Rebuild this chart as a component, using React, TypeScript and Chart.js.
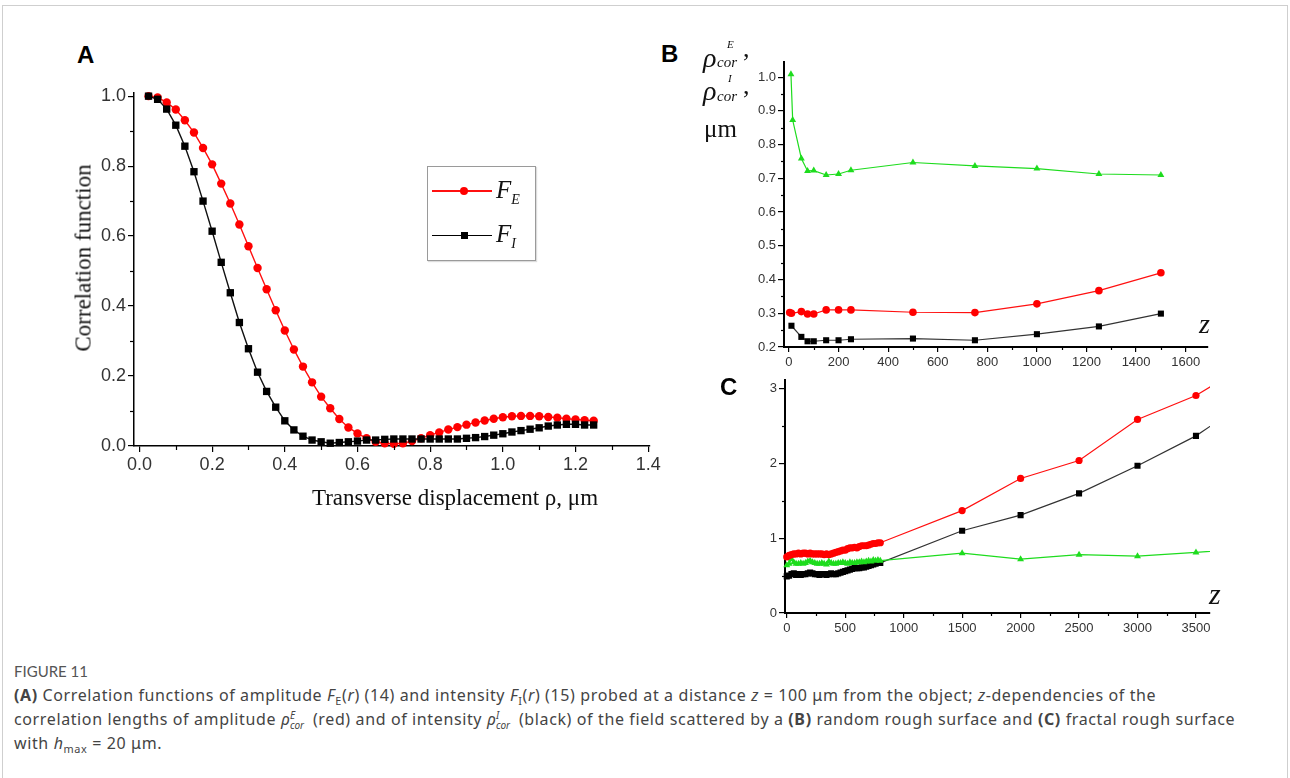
import React, { useEffect, useRef } from "react";
import { Chart, registerables } from "chart.js";
Chart.register(...registerables);

// ---------------- Panel A data ----------------
const A_RHO = [0.025, 0.05, 0.075, 0.1, 0.125, 0.15, 0.175, 0.2, 0.225, 0.25, 0.275, 0.3, 0.325, 0.35, 0.375, 0.4, 0.425, 0.45, 0.475, 0.5, 0.525, 0.55, 0.575, 0.6, 0.625, 0.65, 0.675, 0.7, 0.725, 0.75, 0.775, 0.8, 0.825, 0.85, 0.875, 0.9, 0.925, 0.95, 0.975, 1.0, 1.025, 1.05, 1.075, 1.1, 1.125, 1.15, 1.175, 1.2, 1.225, 1.25];
const A_FE = [1.0, 0.996, 0.982, 0.962, 0.931, 0.896, 0.852, 0.805, 0.75, 0.693, 0.633, 0.571, 0.509, 0.448, 0.388, 0.33, 0.276, 0.227, 0.182, 0.141, 0.108, 0.077, 0.053, 0.036, 0.022, 0.012, 0.008, 0.006, 0.008, 0.014, 0.022, 0.031, 0.039, 0.047, 0.054, 0.061, 0.067, 0.073, 0.078, 0.082, 0.085, 0.086, 0.086, 0.085, 0.083, 0.081, 0.078, 0.076, 0.074, 0.072];
const A_FI = [1.0, 0.991, 0.963, 0.917, 0.857, 0.784, 0.7, 0.614, 0.525, 0.438, 0.353, 0.278, 0.211, 0.156, 0.111, 0.072, 0.046, 0.028, 0.017, 0.012, 0.008, 0.01, 0.012, 0.014, 0.017, 0.017, 0.019, 0.02, 0.02, 0.02, 0.02, 0.02, 0.02, 0.02, 0.02, 0.022, 0.024, 0.027, 0.031, 0.035, 0.04, 0.044, 0.048, 0.052, 0.057, 0.06, 0.062, 0.062, 0.06, 0.06];
const A_X_TICKS = [0, 0.2, 0.4, 0.6, 0.8, 1.0, 1.2, 1.4];
const A_X_MINOR = [0.1, 0.3, 0.5, 0.7, 0.9, 1.1, 1.3];
const A_Y_TICKS = [0, 0.2, 0.4, 0.6, 0.8, 1.0];
const A_Y_MINOR = [0.1, 0.3, 0.5, 0.7, 0.9];

// ---------------- Panel B data ----------------
const B_Z_E = [3, 10, 50, 75, 100, 150, 200, 250, 500, 750, 1000, 1250, 1500];
const B_E = [0.302, 0.3, 0.305, 0.298, 0.298, 0.31, 0.31, 0.31, 0.303, 0.302, 0.328, 0.367, 0.42];
const B_Z_I = [10, 50, 75, 100, 150, 200, 250, 500, 750, 1000, 1250, 1500];
const B_I = [0.263, 0.23, 0.217, 0.217, 0.22, 0.22, 0.223, 0.225, 0.22, 0.238, 0.261, 0.299];
const B_Z_G = [8, 15, 50, 75, 100, 150, 200, 250, 500, 750, 1000, 1250, 1500];
const B_G = [1.009, 0.873, 0.759, 0.722, 0.723, 0.71, 0.713, 0.724, 0.747, 0.737, 0.729, 0.713, 0.71];
const B_X_TICKS = [0, 200, 400, 600, 800, 1000, 1200, 1400, 1600];
const B_X_MINOR = [100, 300, 500, 700, 900, 1100, 1300, 1500];
const B_Y_TICKS = [0.2, 0.3, 0.4, 0.5, 0.6, 0.7, 0.8, 0.9, 1.0];
const B_Y_MINOR = [0.25, 0.35, 0.45, 0.55, 0.65, 0.75, 0.85, 0.95];

// ---------------- Panel C data ----------------
const C_Z = [0, 20, 40, 60, 80, 100, 120, 140, 160, 180, 200, 220, 240, 260, 280, 300, 320, 340, 360, 380, 400, 420, 440, 460, 480, 500, 520, 540, 560, 580, 600, 620, 640, 660, 680, 700, 720, 740, 760, 780, 800, 1500, 2000, 2500, 3000, 3500, 4000];
const C_E = [0.75, 0.77, 0.78, 0.79, 0.79, 0.8, 0.79, 0.8, 0.8, 0.79, 0.8, 0.79, 0.79, 0.79, 0.79, 0.79, 0.78, 0.79, 0.78, 0.79, 0.8, 0.81, 0.82, 0.83, 0.84, 0.84, 0.86, 0.87, 0.87, 0.88, 0.87, 0.89, 0.9, 0.9, 0.9, 0.91, 0.92, 0.93, 0.93, 0.94, 0.94, 1.37, 1.8, 2.04, 2.59, 2.91, 3.38];
const C_I = [0.49, 0.5, 0.52, 0.53, 0.51, 0.52, 0.51, 0.52, 0.52, 0.53, 0.54, 0.53, 0.52, 0.52, 0.51, 0.52, 0.52, 0.51, 0.52, 0.53, 0.52, 0.52, 0.53, 0.54, 0.55, 0.56, 0.57, 0.58, 0.59, 0.6, 0.6, 0.6, 0.61, 0.61, 0.62, 0.63, 0.64, 0.65, 0.66, 0.67, 0.67, 1.1, 1.31, 1.6, 1.97, 2.37, 2.9];
const C_G = [0.64, 0.66, 0.72, 0.68, 0.66, 0.66, 0.67, 0.66, 0.67, 0.69, 0.7, 0.68, 0.67, 0.66, 0.66, 0.67, 0.66, 0.65, 0.69, 0.67, 0.66, 0.66, 0.67, 0.67, 0.68, 0.67, 0.66, 0.68, 0.67, 0.67, 0.68, 0.68, 0.69, 0.68, 0.69, 0.7, 0.69, 0.71, 0.7, 0.71, 0.7, 0.8, 0.72, 0.78, 0.76, 0.81, 0.87];
const C_X_TICKS = [0, 500, 1000, 1500, 2000, 2500, 3000, 3500];
const C_X_MINOR = [250, 750, 1250, 1750, 2250, 2750, 3250];
const C_Y_TICKS = [0, 1, 2, 3];
const C_Y_MINOR = [0.5, 1.5, 2.5];

const SANS = '"Liberation Sans", Arial, sans-serif';
const SERIF = '"Liberation Serif", "Times New Roman", serif';
const RED = "#ff1010";
const GREEN = "#1edc1e";
const BLACK = "#111111";

function minorTicks(xv: number[], yv: number[], len: number, width: number) {
  return {
    id: "minorTicks",
    afterDraw(chart: any) {
      const ctx = chart.ctx;
      const xs = chart.scales.x;
      const ys = chart.scales.y;
      ctx.save();
      ctx.strokeStyle = "#000";
      ctx.lineWidth = width;
      xv.forEach((v) => {
        const p = Math.round(xs.getPixelForValue(v)) + 0.5;
        ctx.beginPath();
        ctx.moveTo(p, xs.top);
        ctx.lineTo(p, xs.top + len);
        ctx.stroke();
      });
      yv.forEach((v) => {
        const p = Math.round(ys.getPixelForValue(v)) + 0.5;
        ctx.beginPath();
        ctx.moveTo(ys.right, p);
        ctx.lineTo(ys.right - len, p);
        ctx.stroke();
      });
      ctx.restore();
    },
  };
}

function axis(o: {
  min: number; max: number; ticks: number[]; fmt: (v: number) => string;
  size: number; fontSize: number; tickLen: number; pad: number; borderW: number; isX: boolean;
}) {
  return {
    type: "linear",
    min: o.min,
    max: o.max,
    afterBuildTicks: (s: any) => {
      s.ticks = o.ticks.map((v) => ({ value: v }));
    },
    afterFit: (s: any) => {
      if (o.isX) s.height = o.size;
      else s.width = o.size;
    },
    grid: { display: true, drawOnChartArea: false, drawTicks: true, tickLength: o.tickLen, color: "#000", lineWidth: 1.2 },
    border: { display: true, color: "#000", width: o.borderW },
    ticks: {
      color: "#333",
      font: { family: SANS, size: o.fontSize },
      padding: o.pad,
      autoSkip: false,
      maxRotation: 0,
      callback: (v: any) => o.fmt(Number(v)),
    },
  };
}

function pts(xs: number[], ys: number[]) {
  return xs.map((x, i) => ({ x, y: ys[i] }));
}

const base = (padding: any) => ({
  responsive: false,
  animation: false,
  devicePixelRatio: 1,
  layout: { padding },
  plugins: { legend: { display: false }, tooltip: { enabled: false } },
  events: [],
});

const abs = (s: any): React.CSSProperties => ({ position: "absolute", whiteSpace: "nowrap", lineHeight: 1, ...s });

export default function App() {
  const refA = useRef<HTMLCanvasElement>(null);
  const refB = useRef<HTMLCanvasElement>(null);
  const refC = useRef<HTMLCanvasElement>(null);

  useEffect(() => {
    const charts: Chart[] = [];
    // Panel A
    charts.push(
      new Chart(refA.current!, {
        type: "line",
        data: {
          datasets: [
            {
              data: pts(A_RHO, A_FI), borderColor: BLACK, backgroundColor: "#000", pointBorderColor: "#000",
              borderWidth: 1.4, pointStyle: "rect", pointRadius: 5.2, pointBorderWidth: 0, clip: 8,
            },
            {
              data: pts(A_RHO, A_FE), borderColor: RED, backgroundColor: "#ff0000", pointBorderColor: "#ff0000",
              borderWidth: 1.4, pointStyle: "circle", pointRadius: 4.2, pointBorderWidth: 0, clip: 8,
            },
          ],
        },
        options: {
          ...base({ left: 0, top: 23, right: 30, bottom: 0 }),
          scales: {
            x: axis({ min: -0.015, max: 1.405, ticks: A_X_TICKS, fmt: (v) => v.toFixed(1), size: 44, fontSize: 18, tickLen: 6, pad: 2, borderW: 1.5, isX: true }),
            y: axis({ min: 0, max: 1.009, ticks: A_Y_TICKS, fmt: (v) => v.toFixed(1), size: 94, fontSize: 18, tickLen: 6, pad: 2, borderW: 1.5, isX: false }),
          },
        } as any,
        plugins: [minorTicks(A_X_MINOR, A_Y_MINOR, 4, 1.2)],
      } as any)
    );
    // Panel B
    charts.push(
      new Chart(refB.current!, {
        type: "line",
        data: {
          datasets: [
            {
              data: pts(B_Z_G, B_G), borderColor: GREEN, backgroundColor: GREEN, pointBorderColor: GREEN,
              borderWidth: 1.2, pointStyle: "triangle", pointRadius: 4, pointBorderWidth: 0, clip: 6,
            },
            {
              data: pts(B_Z_E, B_E), borderColor: RED, backgroundColor: "#ff0000", pointBorderColor: "#ff0000",
              borderWidth: 1.2, pointStyle: "circle", pointRadius: 3.8, pointBorderWidth: 0, clip: 6,
            },
            {
              data: pts(B_Z_I, B_I), borderColor: "#333", backgroundColor: "#000", pointBorderColor: "#000",
              borderWidth: 1.2, pointStyle: "rect", pointRadius: 4.3, pointBorderWidth: 0, clip: 6,
            },
          ],
        },
        options: {
          ...base({ left: 0, top: 22, right: 32, bottom: 0 }),
          scales: {
            x: axis({ min: -20, max: 1690, ticks: B_X_TICKS, fmt: (v) => String(v), size: 28, fontSize: 13, tickLen: 5, pad: 3, borderW: 2, isX: true }),
            y: axis({ min: 0.2, max: 1.045, ticks: B_Y_TICKS, fmt: (v) => v.toFixed(1), size: 84, fontSize: 13, tickLen: 6, pad: 2, borderW: 2, isX: false }),
          },
        } as any,
        plugins: [minorTicks(B_X_MINOR, B_Y_MINOR, 3, 1.2)],
      } as any)
    );
    // Panel C
    const clipC = { left: 6, top: 6, right: 0, bottom: 6 };
    charts.push(
      new Chart(refC.current!, {
        type: "line",
        data: {
          datasets: [
            {
              data: pts(C_Z, C_E), borderColor: RED, backgroundColor: "#ff0000", pointBorderColor: "#ff0000",
              borderWidth: 1.2, pointStyle: "circle", pointRadius: 3.6, pointBorderWidth: 0, clip: clipC,
            },
            {
              data: pts(C_Z, C_G), borderColor: GREEN, backgroundColor: GREEN, pointBorderColor: GREEN,
              borderWidth: 1.2, pointStyle: "triangle", pointRadius: 4, pointBorderWidth: 0, clip: clipC,
            },
            {
              data: pts(C_Z, C_I), borderColor: "#333", backgroundColor: "#000", pointBorderColor: "#000",
              borderWidth: 1.2, pointStyle: "rect", pointRadius: 4.3, pointBorderWidth: 0, clip: clipC,
            },
          ],
        },
        options: {
          ...base({ left: 0, top: 4, right: 30, bottom: 0 }),
          scales: {
            x: axis({ min: -15, max: 3620, ticks: C_X_TICKS, fmt: (v) => String(v), size: 27, fontSize: 13, tickLen: 5, pad: 3, borderW: 2, isX: true }),
            y: axis({ min: 0, max: 3.12, ticks: C_Y_TICKS, fmt: (v) => String(v), size: 85, fontSize: 13, tickLen: 6, pad: 2, borderW: 2, isX: false }),
          },
        } as any,
        plugins: [minorTicks(C_X_MINOR, C_Y_MINOR, 3, 1.2)],
      } as any)
    );
    return () => charts.forEach((c) => c.destroy());
  }, []);

  const serif = (size: number, italic = false) => ({ fontFamily: SERIF, fontSize: size, fontStyle: italic ? "italic" : "normal", color: "#111" });
  const sansBold = (size: number) => ({ fontFamily: SANS, fontSize: size, fontWeight: 700, color: "#000" });
  const cap: React.CSSProperties = { fontFamily: "'Noto Sans', 'Open Sans', sans-serif", fontSize: 16, color: "#444", letterSpacing: 0.62 };
  const sub = (t: string) => <sub style={{ fontSize: "0.68em", lineHeight: 0 }}>{t}</sub>;
  const rhoSS = (sup: string) => (
    <span style={{ position: "relative", display: "inline-block", width: 32 }}>
      <i>ρ</i>
      <i style={{ position: "absolute", left: 9, top: 3, fontSize: 10, lineHeight: 1, letterSpacing: 0 }}>{sup}</i>
      <i style={{ position: "absolute", left: 9, top: 13, fontSize: 10, lineHeight: 1, letterSpacing: 0 }}>cor</i>
    </span>
  );

  return (
    <div style={{ position: "absolute", left: 0, top: 0, width: 1290, height: 778, overflow: "hidden", background: "#fff" }}>
      <div style={{ position: "absolute", left: 2, top: 5, width: 1284, height: 800, border: "1px solid #cfcfcf" }} />
      <canvas ref={refA} width={640} height={420} style={{ position: "absolute", left: 40, top: 70, width: 640, height: 420 }} />
      <canvas ref={refB} width={540} height={335} style={{ position: "absolute", left: 700, top: 40, width: 540, height: 335 }} />
      <canvas ref={refC} width={540} height={270} style={{ position: "absolute", left: 700, top: 370, width: 540, height: 270 }} />

      {/* Panel letters */}
      <div style={abs({ left: 77, top: 43, ...sansBold(24) })}>A</div>
      <div style={abs({ left: 661, top: 42, ...sansBold(24) })}>B</div>
      <div style={abs({ left: 720, top: 375, ...sansBold(24) })}>C</div>

      {/* Panel A axis titles */}
      <div style={abs({ left: 83, top: 258, transform: "translate(-50%,-50%) rotate(-90deg)", ...serif(23) })}>Correlation function</div>
      <div style={abs({ left: 455, top: 497, transform: "translate(-50%,-50%)", ...serif(23) })}>Transverse displacement ρ, μm</div>

      {/* Panel A legend */}
      <div style={{ position: "absolute", left: 427, top: 166, width: 107, height: 93, border: "1px solid #9a9a9a", boxShadow: "1px 1px 1px #ddd" }} />
      <div style={{ position: "absolute", left: 432, top: 190, width: 60, height: 1.5, background: RED }} />
      <div style={{ position: "absolute", left: 460, top: 187, width: 8, height: 8, borderRadius: 4, background: "#ff0000" }} />
      <div style={{ position: "absolute", left: 432, top: 234.5, width: 60, height: 1.8, background: "#000" }} />
      <div style={{ position: "absolute", left: 460.5, top: 232, width: 7, height: 7, background: "#000" }} />
      <div style={abs({ left: 496, top: 177, ...serif(25, true) })}>F<sub style={{ fontSize: 14, lineHeight: 0 }}>E</sub></div>
      <div style={abs({ left: 496, top: 221, ...serif(25, true) })}>F<sub style={{ fontSize: 14, lineHeight: 0 }}>I</sub></div>

      {/* Panel B y label */}
      <div style={abs({ left: 703, top: 44, ...serif(28, true) })}>ρ</div>
      <div style={abs({ left: 727, top: 39, ...serif(11, true) })}>E</div>
      <div style={abs({ left: 717, top: 55, ...serif(15, true) })}>cor</div>
      <div style={abs({ left: 743, top: 36, ...serif(26) })}>,</div>
      <div style={abs({ left: 703, top: 77, ...serif(28, true) })}>ρ</div>
      <div style={abs({ left: 728, top: 73, ...serif(11, true) })}>I</div>
      <div style={abs({ left: 717, top: 89, ...serif(15, true) })}>cor</div>
      <div style={abs({ left: 743, top: 73, ...serif(26) })}>,</div>
      <div style={abs({ left: 704, top: 116, ...serif(25) })}>μm</div>
      <div style={abs({ left: 1199, top: 310, ...serif(28, true) })}>z</div>
      <div style={abs({ left: 1209, top: 579, ...serif(30, true) })}>z</div>

      {/* Caption */}
      <div style={abs({ left: 14, top: 664, fontFamily: "Lato, sans-serif", fontSize: 15, color: "#555" })}>FIGURE 11</div>
      <div style={abs({ left: 14, top: 683, ...cap, lineHeight: "24px" })}>
        <b>(A)</b> Correlation functions of amplitude <i>F</i>{sub("E")}(<i>r</i>) (14) and intensity <i>F</i>{sub("I")}(<i>r</i>) (15) probed at a distance <i>z</i> = 100 μm from the object; <i>z</i>-dependencies of the
        <br />
        correlation lengths of amplitude {rhoSS("E")}(red) and of intensity {rhoSS("I")}(black) of the field scattered by a <b>(B)</b> random rough surface and <b>(C)</b> fractal rough surface
        <br />
        with <i>h</i>{sub("max")} = 20 μm.
      </div>
    </div>
  );
}
